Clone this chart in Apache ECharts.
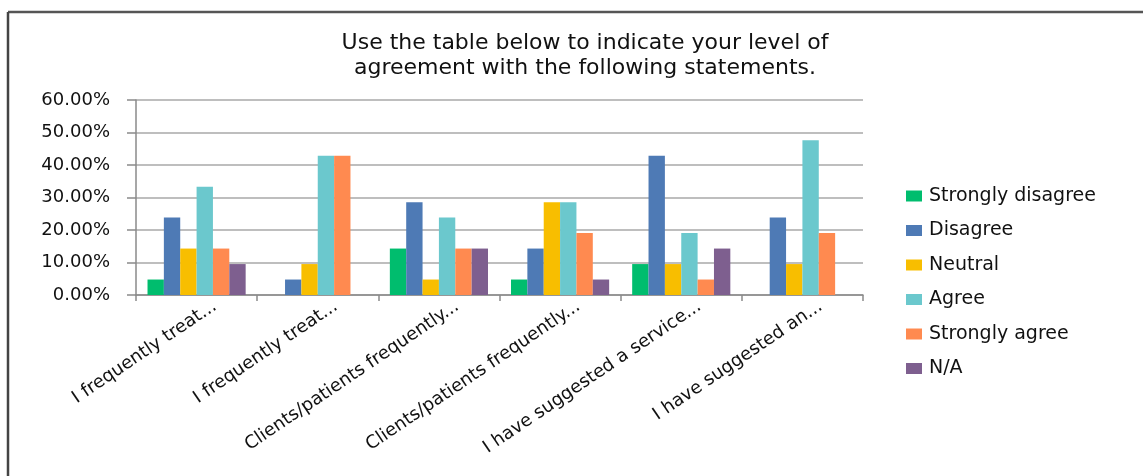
<!DOCTYPE html>
<html>
<head>
<meta charset="utf-8">
<script src="https://cdn.jsdelivr.net/npm/echarts@6/dist/echarts.min.js"></script>
<style>
html,body{margin:0;padding:0;background:#fff;}
#c{width:1143px;height:476px;}
</style>
</head>
<body>
<div id="c"></div>
<script>
const categories = [
  "I frequently treat...",
  "I frequently treat...",
  "Clients/patients frequently...",
  "Clients/patients frequently...",
  "I have suggested a service...",
  "I have suggested an..."
];
const seriesNames = ["Strongly disagree", "Disagree", "Neutral", "Agree", "Strongly agree", "N/A"];
const stronglyDisagree = [4.76, 0, 14.29, 4.76, 9.52, 0];
const disagree        = [23.81, 4.76, 28.57, 14.29, 42.86, 23.81];
const neutral         = [14.29, 9.52, 4.76, 28.57, 9.52, 9.52];
const agree           = [33.33, 42.86, 23.81, 28.57, 19.05, 47.62];
const stronglyAgree   = [14.29, 42.86, 14.29, 19.05, 4.76, 19.05];
const notApplicable   = [9.52, 0, 14.29, 4.76, 14.29, 0];
const yTicks = [0, 10, 20, 30, 40, 50, 60];

const colors = ["#00BD6E", "#4E7AB5", "#F8BE00", "#6BC8CD", "#FF8A50", "#7E5F8F"];
const values = [stronglyDisagree, disagree, neutral, agree, stronglyAgree, notApplicable];
const FONT = "DejaVu Sans";

const chart = echarts.init(document.getElementById('c'), null, {renderer: 'canvas'});
chart.setOption({
  animation: false,
  backgroundColor: '#fff',
  color: colors,
  textStyle: {fontFamily: FONT},
  title: {
    text: "Use the table below to indicate your level of\nagreement with the following statements.",
    left: 580, top: 26, textAlign: 'center',
    textStyle: {fontFamily: FONT, fontSize: 22, fontWeight: 'normal', color: '#111', lineHeight: 25}
  },
  legend: {
    orient: 'vertical',
    left: 906, top: 186, padding: 0,
    itemWidth: 16, itemHeight: 11, itemGap: 14.5,
    icon: 'rect',
    data: seriesNames,
    textStyle: {fontFamily: FONT, fontSize: 19, color: '#111', lineHeight: 20, padding: [0,0,0,2]}
  },
  grid: {left: 136, right: 280, top: 100, bottom: 181, containLabel: false},
  xAxis: {
    type: 'category',
    data: categories,
    axisLine: {lineStyle: {color: '#8a8a8a', width: 1.5}},
    axisTick: {show: true, length: 6, lineStyle: {color: '#8a8a8a', width: 1.5}},
    axisLabel: {rotate: 34, interval: 0, fontSize: 18, color: '#111', fontFamily: FONT, margin: 22,
      padding: [0, -22, 0, 0]}
  },
  yAxis: {
    type: 'value', min: yTicks[0], max: yTicks[yTicks.length-1], interval: 10,
    axisLine: {show: true, lineStyle: {color: '#8a8a8a', width: 1.5}},
    axisTick: {show: true, length: 9, lineStyle: {color: '#8a8a8a', width: 1.5}},
    splitLine: {lineStyle: {color: '#a8a8a8', width: 1.5}},
    axisLabel: {fontSize: 18, color: '#111', fontFamily: FONT, margin: 26,
      formatter: v => v.toFixed(2) + '%'}
  },
  series: seriesNames.map((n, i) => ({
    name: n, type: 'bar', data: values[i],
    barGap: '0%', barCategoryGap: '19%',
    itemStyle: {color: colors[i]}
  })),
  graphic: [
    {type: 'line', shape: {x1: 8, y1: 12, x2: 1143, y2: 12}, style: {stroke: '#555', lineWidth: 2.5}, silent: true},
    {type: 'line', shape: {x1: 8, y1: 12, x2: 8, y2: 476}, style: {stroke: '#444', lineWidth: 2.5}, silent: true}
  ]
});
</script>
</body>
</html>
